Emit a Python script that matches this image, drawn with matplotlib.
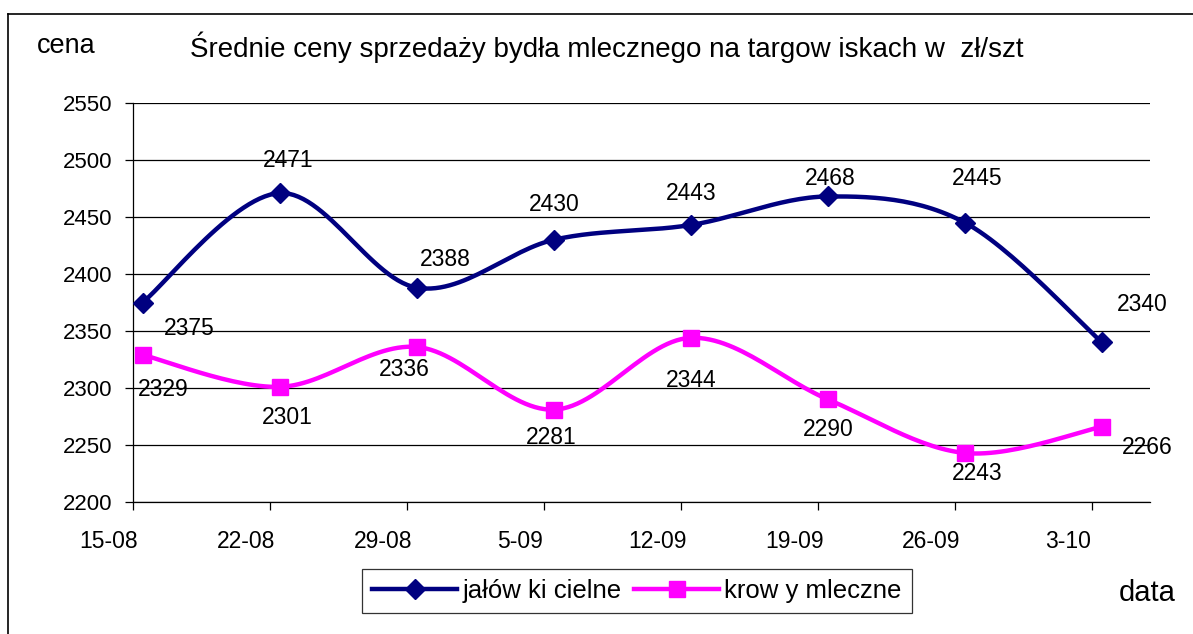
import numpy as np
import matplotlib
matplotlib.use("Agg")
import matplotlib.pyplot as plt
from matplotlib.lines import Line2D
from matplotlib.transforms import ScaledTranslation

plt.rcParams["font.family"] = ["Liberation Sans", "DejaVu Sans"]

dates = ["15-08", "22-08", "29-08", "5-09", "12-09", "19-09", "26-09", "3-10"]
jalowki = [2375, 2471, 2388, 2430, 2443, 2468, 2445, 2340]
krowy = [2329, 2301, 2336, 2281, 2344, 2290, 2243, 2266]

# label offsets (pixels) as placed in the original sheet
jal_off = [(47, -26), (9, 33), (29, 28), (0, 35), (0, 31), (2, 18), (12, 44), (40, 38)]
kro_off = [(21, -35), (8, -31), (-12, -23), (-3, -28), (0, -43), (0, -30), (12, -21), (45, -21)]

NAVY = "#000080"
PINK = "#ff00ff"


def smooth(x, y, steps=30):
    # catmull-rom style curve, like excel's "smoothed line"
    x = np.asarray(x, float)
    y = np.asarray(y, float)
    px = np.concatenate([[x[0]], x, [x[-1]]])
    py = np.concatenate([[y[0]], y, [y[-1]]])
    xs, ys = [], []
    t = np.linspace(0, 1, steps)
    for i in range(1, len(px) - 2):
        p0 = np.array([px[i], py[i]])
        p3 = np.array([px[i + 1], py[i + 1]])
        p1 = p0 + (np.array([px[i + 1], py[i + 1]]) - np.array([px[i - 1], py[i - 1]])) / 6
        p2 = p3 - (np.array([px[i + 2], py[i + 2]]) - np.array([px[i], py[i]])) / 6
        b = ((1 - t) ** 3)[:, None] * p0 + (3 * (1 - t) ** 2 * t)[:, None] * p1 \
            + (3 * (1 - t) * t ** 2)[:, None] * p2 + (t ** 3)[:, None] * p3
        xs.extend(b[:, 0])
        ys.extend(b[:, 1])
    return xs, ys


fig = plt.figure(figsize=(11.93, 6.34), dpi=100)
ax = fig.add_axes([133 / 1193, 1 - 502 / 634, 1017 / 1193, 399 / 634])

x = np.arange(len(dates))
tick_shift = 0.07

for vals, col, mk, ms, offs in [
    (jalowki, NAVY, "D", 10.5, jal_off),
    (krowy, PINK, "s", 11, kro_off),
]:
    sx, sy = smooth(x, vals)
    ax.plot(sx, sy, color=col, lw=3.2, solid_capstyle="round", zorder=3)
    ax.plot(x, vals, ls="none", marker=mk, ms=ms, color=col, zorder=4)
    for xi, v, (dx, dy) in zip(x, vals, offs):
        ax.annotate(str(v), (xi, v), xytext=(dx, dy), textcoords="offset pixels",
                    ha="center", va="center", fontsize=16.5, color="black", zorder=5)

ax.set_ylim(2200, 2550)
ax.set_yticks(np.arange(2200, 2551, 50))
ax.set_xlim(-tick_shift, 7.42 - tick_shift)
ax.set_xticks(x - tick_shift)
ax.set_xticklabels(dates)
ax.grid(axis="y", color="black", lw=0.9)
ax.set_axisbelow(True)

for s in ["top", "right"]:
    ax.spines[s].set_visible(False)
for s in ["left", "bottom"]:
    ax.spines[s].set_linewidth(0.9)
ax.tick_params(axis="both", direction="out", length=6, width=0.9)
ax.tick_params(axis="x", pad=14, labelsize=16.5)
ax.tick_params(axis="y", pad=9, labelsize=16)
for lab in ax.get_xticklabels():
    lab.set_transform(lab.get_transform() + ScaledTranslation(-24 / 100, 0, fig.dpi_scale_trans))

fig.text(66 / 1193, 1 - 46 / 634, "cena", ha="center", va="center", fontsize=19.5)
fig.text(607 / 1193, 1 - 47 / 634,
         "Średnie ceny sprzedaży bydła mlecznego na targow iskach w  zł/szt",
         ha="center", va="center", fontsize=20)
fig.text(1147 / 1193, 1 - 593 / 634, "data", ha="center", va="center", fontsize=21)

handles = [
    Line2D([], [], color=NAVY, lw=3.2, marker="D", ms=10.5),
    Line2D([], [], color=PINK, lw=3.2, marker="s", ms=11),
]
leg = fig.legend(handles, ["jałów ki cielne", "krow y mleczne"], loc="center",
                 bbox_to_anchor=(637 / 1193, 1 - 591 / 634), ncol=2, fontsize=18.5,
                 frameon=True, fancybox=False, handlelength=3.3, handletextpad=0.2,
                 columnspacing=0.5, borderpad=0.4)
leg.get_frame().set_edgecolor("black")
leg.get_frame().set_linewidth(0.9)

# outer chart-area border (only top and left visible in the crop)
fig.add_artist(Line2D([8 / 1193, 1], [1 - 14 / 634, 1 - 14 / 634], color="black", lw=1.2,
                      transform=fig.transFigure))
fig.add_artist(Line2D([8 / 1193, 8 / 1193], [1 - 14 / 634, 0], color="black", lw=1.2,
                      transform=fig.transFigure))

fig.savefig("out.png", dpi=100, facecolor="white")
